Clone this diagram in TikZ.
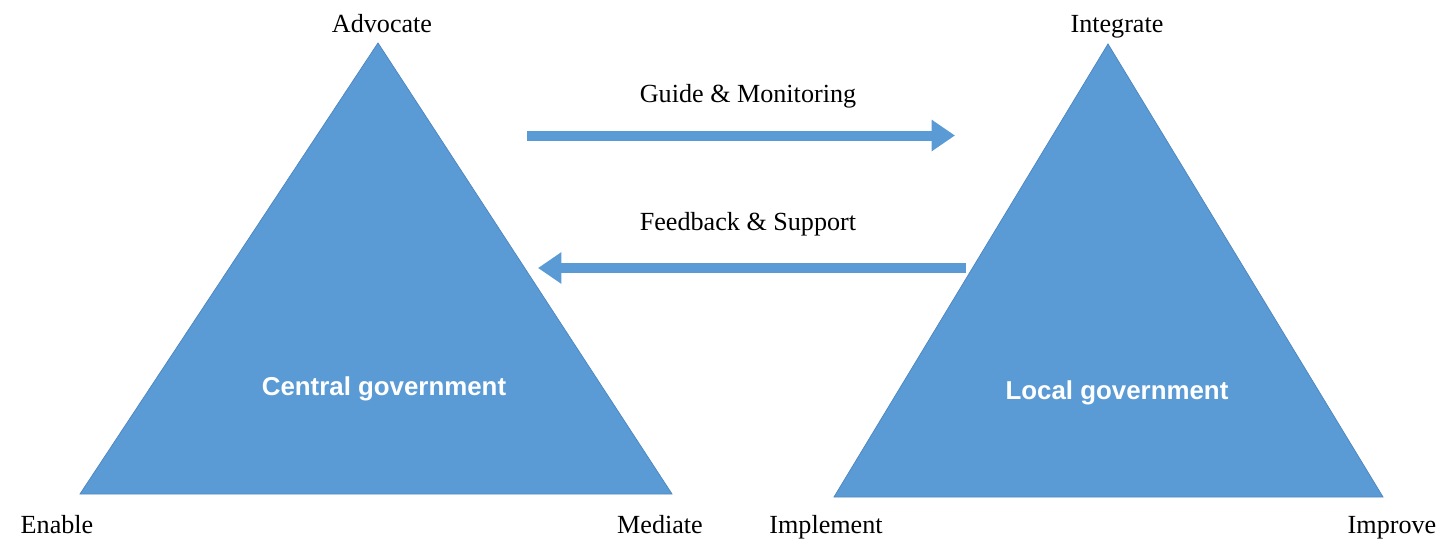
\documentclass[tikz,border=0pt]{standalone}
\usepackage{fontspec}
\setmainfont{Liberation Serif}
\newfontfamily\labsans{Liberation Sans}
\usetikzlibrary{arrows.meta}
\definecolor{tri}{HTML}{5B9BD5}
\definecolor{triedge}{HTML}{4F88C0}
\begin{document}
\begin{tikzpicture}[x=0.75pt,y=-0.75pt,
  lab/.style={anchor=base,inner sep=0pt,font=\fontsize{19.6}{22}\selectfont},
  inlab/.style={anchor=base,inner sep=0pt,text=white,font=\labsans\bfseries\fontsize{19.4}{22}\selectfont},
  trishape/.style={fill=tri,draw=triedge,line width=0.6pt,line join=miter},
  flow/.style={draw=tri,line width=7.5pt,-{Triangle[length=17.5pt,width=22.5pt]}}]
\useasboundingbox (0,0) rectangle (1443,540);
% left triangle
\coordinate (LA) at (378,43);
\coordinate (LB) at (80,494);
\coordinate (LC) at (672,494);
\draw[trishape] (LA) -- (LC) -- (LB) -- cycle;
% right triangle
\coordinate (RA) at (1108,44);
\coordinate (RB) at (834,497);
\coordinate (RC) at (1383,497);
\draw[trishape] (RA) -- (RC) -- (RB) -- cycle;
% labels
\node[lab] (advocate) at (382,32) {Advocate};
\node[lab] (enable) at (57,533) {Enable};
\node[lab] (mediate) at (660,533) {Mediate};
\node[lab] (integrate) at (1117,32) {Integrate};
\node[lab] (implement) at (826,533) {Implement};
\node[lab] (improve) at (1392,533) {Improve};
\node[inlab] (central) at (384,395) {Central government};
\node[inlab] (local) at (1117,399) {Local government};
\node[lab] (guide) at (748,102) {Guide \& Monitoring};
\node[lab] (feedback) at (748,230) {Feedback \& Support};
% arrows
\coordinate (g1) at (527,135.5);
\coordinate (g2) at (955,135.5);
\coordinate (f1) at (966,268);
\coordinate (f2) at (538,268);
\draw[flow] (g1) -- (g2);
\draw[flow] (f1) -- (f2);
\end{tikzpicture}
\end{document}
